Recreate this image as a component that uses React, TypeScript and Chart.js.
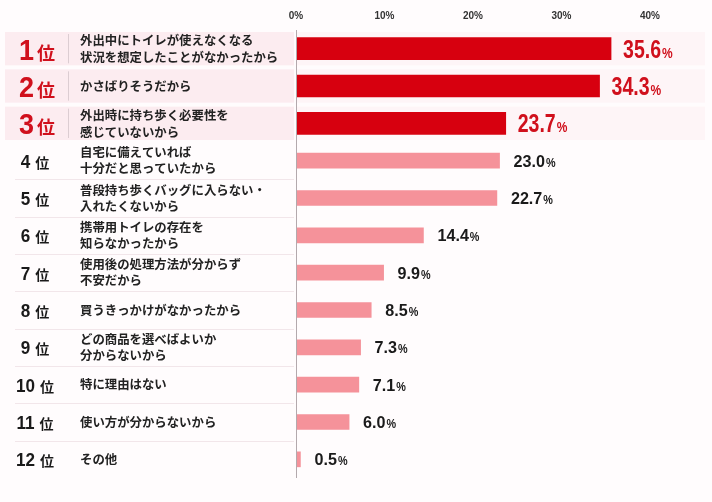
import { useEffect, useRef } from "react";
import { Chart, registerables } from "chart.js";

Chart.register(...registerables);

// survey reasons, ranked
const reasons: string[][] = [
  ["外出中にトイレが使えなくなる", "状況を想定したことがなかったから"],
  ["かさばりそうだから"],
  ["外出時に持ち歩く必要性を", "感じていないから"],
  ["自宅に備えていれば", "十分だと思っていたから"],
  ["普段持ち歩くバッグに入らない・", "入れたくないから"],
  ["携帯用トイレの存在を", "知らなかったから"],
  ["使用後の処理方法が分からず", "不安だから"],
  ["買うきっかけがなかったから"],
  ["どの商品を選べばよいか", "分からないから"],
  ["特に理由はない"],
  ["使い方が分からないから"],
  ["その他"],
];
const ranks = ["1", "2", "3", "4", "5", "6", "7", "8", "9", "10", "11", "12"];
const percents = [35.6, 34.3, 23.7, 23.0, 22.7, 14.4, 9.9, 8.5, 7.3, 7.1, 6.0, 0.5];
const xTicks = [0, 10, 20, 30, 40];
const TOP_N = 3;

const RED = "#d7000f";
const PINK = "#f5929a";
const JP = '"Noto Sans CJK JP", "Noto Sans", sans-serif';
const NUM = '"Liberation Sans", Arial, sans-serif';

// draw text squeezed horizontally (condensed look)
const squeezed = (ctx: any, s: string, x: number, y: number, sx: number) => {
  ctx.save();
  ctx.translate(x, y);
  ctx.scale(sx, 1);
  ctx.fillText(s, 0, 0);
  ctx.restore();
  return ctx.measureText(s).width * sx;
};

const decor = {
  id: "decor",
  beforeDraw(chart: any) {
    const { ctx, chartArea, scales } = chart;
    const y = scales.y;
    const rowH = (chartArea.bottom - chartArea.top) / percents.length;
    ctx.save();
    ctx.fillStyle = "#fffcfd";
    ctx.fillRect(0, 0, chart.width, chart.height);
    for (let i = 0; i < TOP_N; i++) {
      const cy = y.getPixelForValue(i);
      const top = cy - rowH / 2 + 2;
      ctx.fillStyle = "#fcecf0";
      ctx.fillRect(5, top, chartArea.left - 7, rowH - 4);
      ctx.fillStyle = "#fef5f7";
      ctx.fillRect(chartArea.left + 1, top, chart.width - chartArea.left - 8, rowH - 4);
      ctx.strokeStyle = "#dccdd2";
      ctx.lineWidth = 1;
      ctx.beginPath();
      ctx.moveTo(68.5, top + 2);
      ctx.lineTo(68.5, top + rowH - 6);
      ctx.stroke();
    }
    ctx.strokeStyle = "#f2e6ea";
    ctx.lineWidth = 1;
    for (let i = TOP_N + 1; i < percents.length; i++) {
      const yy = Math.round(y.getPixelForValue(i) - rowH / 2) + 0.5;
      ctx.beginPath();
      ctx.moveTo(15, yy);
      ctx.lineTo(chartArea.left - 2, yy);
      ctx.stroke();
    }
    ctx.restore();
  },
  afterDatasetsDraw(chart: any) {
    const { ctx, chartArea, scales } = chart;
    const x = scales.x;
    const y = scales.y;
    ctx.save();
    // zero axis line
    const x0 = Math.round(x.getPixelForValue(0)) + 0.5;
    ctx.strokeStyle = "#b3a9ad";
    ctx.lineWidth = 1;
    ctx.beginPath();
    ctx.moveTo(x0, chartArea.top);
    ctx.lineTo(x0, chartArea.bottom);
    ctx.stroke();

    ctx.textBaseline = "alphabetic";
    ctx.textAlign = "left";
    percents.forEach((v, i) => {
      const cy = y.getPixelForValue(i);
      const top = i < TOP_N;
      const color = top ? "#d0101c" : "#1a1a1a";
      // rank
      const numFont = top ? `bold 30px ${NUM}` : `bold 18px ${NUM}`;
      const iFont = top ? `bold 18px ${JP}` : `bold 14px ${JP}`;
      const nsx = top ? 0.9 : 0.95;
      ctx.font = numFont;
      const nw = ctx.measureText(ranks[i]).width * nsx;
      ctx.font = iFont;
      const iw = ctx.measureText("位").width;
      const gap = top ? 3 : 5;
      const startX = (top ? 37 : 35) - (nw + gap + iw) / 2;
      const base = cy + (top ? 11 : 7);
      ctx.fillStyle = color;
      ctx.font = numFont;
      squeezed(ctx, ranks[i], startX, base, nsx);
      ctx.font = iFont;
      ctx.fillText("位", startX + nw + gap, base);

      // reason text
      const lines = reasons[i];
      ctx.font = `bold 12.4px ${JP}`;
      ctx.fillStyle = "#222";
      ctx.textBaseline = "middle";
      const lh = top ? 17 : 16;
      lines.forEach((ln, k) => {
        ctx.fillText(ln, 80, cy + (k - (lines.length - 1) / 2) * lh);
      });
      ctx.textBaseline = "alphabetic";

      // value label
      const xe = x.getPixelForValue(v);
      const s = v.toFixed(1);
      ctx.fillStyle = color;
      ctx.font = top ? `bold 25px ${NUM}` : `bold 17px ${NUM}`;
      const lx = xe + (top ? 12 : 14);
      const lb = cy + (top ? 9 : 6);
      const sw = squeezed(ctx, s, lx, lb, top ? 0.78 : 0.95);
      ctx.font = top ? `bold 15px ${NUM}` : `bold 12px ${NUM}`;
      squeezed(ctx, "%", lx + sw + 1, lb, top ? 0.8 : 0.9);
    });
    ctx.restore();
  },
};

const App = () => {
  const canvasRef = useRef<HTMLCanvasElement>(null);

  useEffect(() => {
    if (!canvasRef.current) return;
    const chart = new Chart(canvasRef.current, {
      type: "bar",
      data: {
        labels: reasons.map((r) => r.join("")),
        datasets: [
          {
            data: percents.map((v, i) => (i < TOP_N ? v : null)),
            backgroundColor: RED,
            barThickness: 22,
            grouped: false,
          } as any,
          {
            data: percents.map((v, i) => (i < TOP_N ? null : v)),
            backgroundColor: PINK,
            barThickness: 15,
            grouped: false,
          } as any,
        ],
      },
      options: {
        indexAxis: "y",
        responsive: true,
        maintainAspectRatio: false,
        animation: false,
        layout: { padding: { left: 296, right: 62, top: 2, bottom: 24 } },
        plugins: {
          legend: { display: false },
          tooltip: { enabled: false },
        },
        scales: {
          x: {
            position: "top",
            min: 0,
            max: 40,
            grid: { display: false, drawTicks: false },
            border: { display: false },
            afterBuildTicks: (axis: any) => {
              axis.ticks = xTicks.map((v) => ({ value: v }));
            },
            ticks: {
              padding: 8,
              color: "#333",
              font: { family: NUM, size: 10, weight: "bold" },
              callback: (v: any) => `${v}%`,
            },
          },
          y: {
            display: false,
          },
        },
      },
      plugins: [decor],
    });
    return () => chart.destroy();
  }, []);

  return (
    <>
      <style>{`body{margin:0;}`}</style>
      <div style={{ width: 712, height: 502, position: "relative" }}>
        <canvas ref={canvasRef}></canvas>
      </div>
    </>
  );
};

export default App;
